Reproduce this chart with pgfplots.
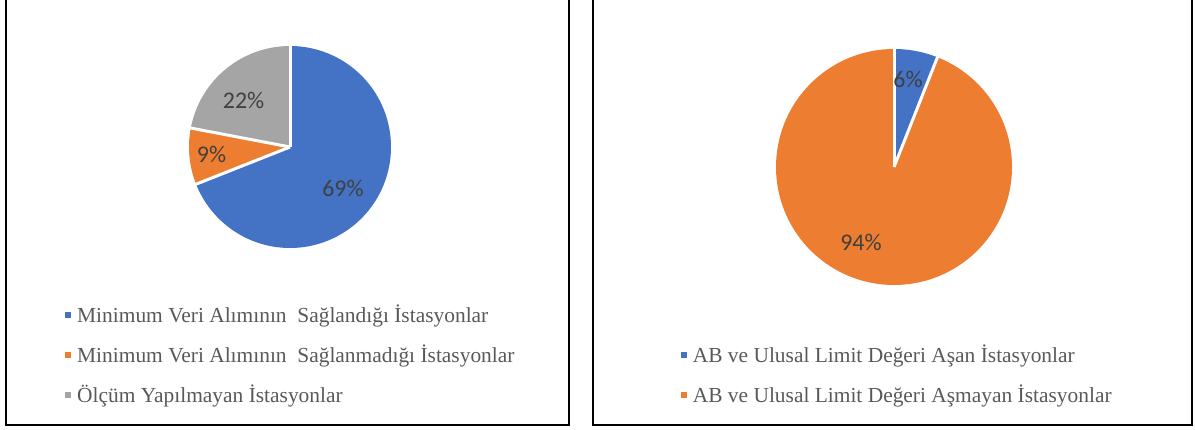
\documentclass[border=0pt]{standalone}
\usepackage{pgfplots}
\pgfplotsset{compat=1.18}
\usepackage{fontspec}
\setmainfont{Liberation Serif}
\newfontfamily\calibri{Carlito}
\definecolor{xblue}{HTML}{4472C4}
\definecolor{xorange}{HTML}{ED7D31}
\definecolor{xgray}{HTML}{A5A5A5}
\definecolor{lbl}{HTML}{404040}
\definecolor{leg}{HTML}{595959}
\pgfplotsset{
  canvas/.style={at={(0,0)}, anchor=south west, width=1195bp, height=430bp,
    scale only axis, xmin=0, xmax=1195, ymin=0, ymax=430, hide axis, clip=false},
  pielegend/.style={legend style={draw=none, fill=none, inner sep=0pt, column sep=6bp, row sep=20bp,
    font=\fontsize{21.5}{25}\selectfont, text=leg,
    nodes={inner sep=0pt, text height=15bp, text depth=5bp}}, legend cell align=left},
}
\tikzset{lab/.style={font=\calibri\fontsize{24}{24}\selectfont, text=lbl}}
\begin{document}
\begin{tikzpicture}
\path[use as bounding box] (0,0) rectangle (1195bp,430bp);
% ---------- Left pie: 69 / 9 / 22 percent, centre (290,283), r=101
\begin{axis}[canvas, pielegend,
  legend image code/.code={\fill[#1] (0bp,-1bp) rectangle (6bp,5bp);},
  legend style={at={(0.0544,0.286)}, anchor=north west}]
\addlegendimage{fill=xblue, draw=none}
\addlegendentry{Minimum Veri Alımının\ \ Sağlandığı İstasyonlar}
\addlegendimage{fill=xorange, draw=none}
\addlegendentry{Minimum Veri Alımının\ \ Sağlanmadığı İstasyonlar}
\addlegendimage{fill=xgray, draw=none}
\addlegendentry{Ölçüm Yapılmayan İstasyonlar}
% 69% : 0 .. 248.4 deg (clockwise from top)
\addplot[forget plot, fill=xblue, draw=none, samples at={-1,0,1.5,...,247.5,248.4}]
  ({x<0 ? 290 : 290+101*sin(x)}, {x<0 ? 283 : 283+101*cos(x)});
% 9% : 248.4 .. 280.8
\addplot[forget plot, fill=xorange, draw=none, samples at={-1,248.4,250,...,280,280.8}]
  ({x<0 ? 290 : 290+101*sin(x)}, {x<0 ? 283 : 283+101*cos(x)});
% 22% : 280.8 .. 360
\addplot[forget plot, fill=xgray, draw=none, samples at={-1,280.8,282,...,358,360}]
  ({x<0 ? 290 : 290+101*sin(x)}, {x<0 ? 283 : 283+101*cos(x)});
% separators
\addplot[forget plot, white, line width=3bp, samples at={0,102}] ({290+x*sin(0)}, {283+x*cos(0)});
\addplot[forget plot, white, line width=3bp, samples at={0,102}] ({290+x*sin(248.4)}, {283+x*cos(248.4)});
\addplot[forget plot, white, line width=3bp, samples at={0,102}] ({290+x*sin(280.8)}, {283+x*cos(280.8)});
\node[lab] at (axis cs:343,242) {69\%};
\node[lab] at (axis cs:211.5,276) {9\%};
\node[lab] at (axis cs:243.6,330) {22\%};
\end{axis}
% ---------- Right pie: 6 / 94 percent, centre (894,263), r=118
\begin{axis}[canvas, pielegend,
  legend image code/.code={\fill[#1] (0bp,-1bp) rectangle (6bp,5bp);},
  legend style={at={(0.5696,0.193)}, anchor=north west}]
\addlegendimage{fill=xblue, draw=none}
\addlegendentry{AB ve Ulusal Limit Değeri Aşan İstasyonlar}
\addlegendimage{fill=xorange, draw=none}
\addlegendentry{AB ve Ulusal Limit Değeri Aşmayan İstasyonlar}
% 6% : 0 .. 21.6
\addplot[forget plot, fill=xblue, draw=none, samples at={-1,0,1,...,21,21.6}]
  ({x<0 ? 894 : 894+118*sin(x)}, {x<0 ? 263 : 263+118*cos(x)});
% 94% : 21.6 .. 360
\addplot[forget plot, fill=xorange, draw=none, samples at={-1,21.6,23,...,359,360}]
  ({x<0 ? 894 : 894+118*sin(x)}, {x<0 ? 263 : 263+118*cos(x)});
\addplot[forget plot, white, line width=3bp, samples at={0,119}] ({894+x*sin(0)}, {263+x*cos(0)});
\addplot[forget plot, white, line width=3bp, samples at={0,119}] ({894+x*sin(21.6)}, {263+x*cos(21.6)});
\node[lab] at (axis cs:908,351) {6\%};
\node[lab] at (axis cs:861,188) {94\%};
\end{axis}
% panel frames
\draw[line width=2bp] (6bp,432bp) -- (6bp,5bp) -- (568.5bp,5bp) -- (568.5bp,432bp);
\draw[line width=2bp] (592.7bp,432bp) -- (592.7bp,5bp) -- (1192bp,5bp) -- (1192bp,432bp);
\end{tikzpicture}
\end{document}
